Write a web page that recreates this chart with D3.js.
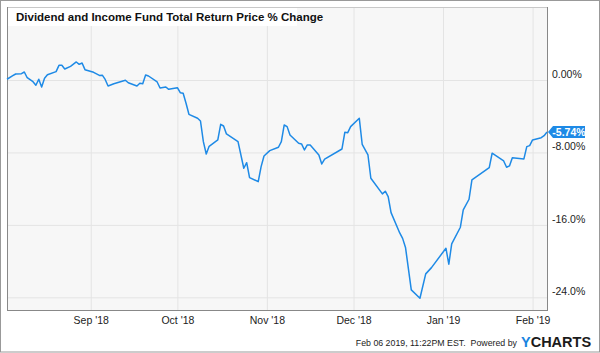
<!DOCTYPE html>
<html>
<head>
<meta charset="utf-8">
<script src="https://cdn.jsdelivr.net/npm/d3@7"></script>
<style>
  body { margin: 0; background: #fff; }
  svg { display: block; font-family: Arial, "Liberation Sans", sans-serif; }
</style>
</head>
<body>
<svg id="chart" width="600" height="353"></svg>
<script>
// total return % change
var dates = ["2018-08-03","2018-08-05","2018-08-06","2018-08-08","2018-08-09","2018-08-10","2018-08-12","2018-08-13",
  "2018-08-14","2018-08-15","2018-08-16","2018-08-17","2018-08-20","2018-08-21","2018-08-22","2018-08-23","2018-08-25",
  "2018-08-27","2018-08-28","2018-08-29","2018-08-30","2018-09-02","2018-09-04","2018-09-05","2018-09-06","2018-09-07",
  "2018-09-09","2018-09-13","2018-09-14","2018-09-17","2018-09-18","2018-09-19","2018-09-20","2018-09-21","2018-09-24",
  "2018-09-25","2018-09-27","2018-09-28","2018-10-01","2018-10-02","2018-10-03","2018-10-04","2018-10-05","2018-10-08",
  "2018-10-09","2018-10-10","2018-10-11","2018-10-12","2018-10-15","2018-10-16","2018-10-17","2018-10-18","2018-10-22",
  "2018-10-24","2018-10-25","2018-10-26","2018-10-29","2018-10-30","2018-10-31","2018-11-02","2018-11-05","2018-11-06",
  "2018-11-07","2018-11-08","2018-11-09","2018-11-12","2018-11-13","2018-11-14","2018-11-15","2018-11-16","2018-11-19",
  "2018-11-20","2018-11-21","2018-11-27","2018-11-28","2018-11-29","2018-11-30","2018-12-03","2018-12-04","2018-12-06",
  "2018-12-07","2018-12-11","2018-12-12","2018-12-13","2018-12-14","2018-12-17","2018-12-18","2018-12-19","2018-12-21",
  "2018-12-24","2018-12-26","2018-12-28","2019-01-02","2019-01-03","2019-01-04","2019-01-07","2019-01-08","2019-01-10",
  "2019-01-11","2019-01-17","2019-01-18","2019-01-22","2019-01-23","2019-01-24","2019-01-25","2019-01-29","2019-01-30",
  "2019-01-31","2019-02-01","2019-02-04","2019-02-05","2019-02-06"];
var values = [0.08,0.47,0.66,0.70,0.88,0.25,-0.19,-0.58,
  0.08,-0.77,0.19,0.58,0.92,1.62,1.62,1.21,1.51,
  1.99,1.73,1.88,1.14,0.85,0.50,0.53,0.06,-0.66,
  -0.41,-0.03,-0.30,-0.66,-0.36,-0.41,0.55,0.44,-0.22,
  -0.88,-0.77,-1.03,-0.85,-1.40,-1.47,-2.57,-3.79,-4.23,
  -4.53,-6.81,-8.17,-7.32,-6.62,-4.89,-5.08,-5.96,-6.81,
  -9.75,-9.13,-10.78,-11.23,-9.57,-8.39,-7.80,-7.43,-6.81,
  -4.97,-5.15,-6.07,-6.99,-7.06,-7.73,-7.17,-7.17,-8.28,
  -9.27,-8.75,-7.62,-5.77,-5.82,-5.15,-4.23,-7.10,-8.28,
  -10.85,-12.58,-12.28,-12.88,-14.65,-16.89,-17.49,-18.49,-23.18,
  -24.10,-21.41,-20.72,-18.58,-20.34,-18.10,-16.26,-14.35,-13.17,
  -11.04,-9.68,-8.09,-8.94,-9.64,-9.49,-8.58,-8.72,-7.36,
  -7.25,-6.62,-6.37,-6.15,-5.74];

var yTicks = [0, -8, -16, -24];
var yTickLabels = ["0.00%", "-8.00%", "-16.0%", "-24.0%"];
var title = "Dividend and Income Fund Total Return Price % Change";
var lastLabel = "-5.74%";
var stamp = "Feb 06 2019, 11:22PM EST.\u00a0 Powered by";

var parse = d3.timeParse("%Y-%m-%d");
var data = dates.map(function (d, i) { return { date: parse(d), value: values[i] }; });

var margin = { top: 7, right: 53, bottom: 43, left: 7 };
var W = 600, H = 353;
var width = W - margin.left - margin.right;
var height = H - margin.top - margin.bottom;
var blue = "#1e8ae6";

var svg = d3.select("#chart");

// outer frame
svg.append("rect")
    .attr("x", 0.5).attr("y", 0.5)
    .attr("width", W - 1).attr("height", H - 1.5)
    .attr("fill", "#fff")
    .attr("stroke", "#999");

var x = d3.scaleTime()
    .domain([parse("2018-08-03"), parse("2019-02-06")])
    .range([0, width]);

var y = d3.scaleLinear()
    .domain([-25.4, 8.06])
    .range([height, 0]);

var g = svg.append("g")
    .attr("transform", "translate(" + margin.left + "," + margin.top + ")");

g.append("rect")
    .attr("width", width).attr("height", height)
    .attr("fill", "#f7f7f7");

// grid
var monthTicks = x.ticks(d3.timeMonth.every(1));

g.append("g")
    .attr("class", "xgrid")
    .attr("transform", "translate(0," + height + ")")
    .call(d3.axisBottom(x).tickValues(monthTicks).tickSize(-height).tickFormat(""))
    .call(function (s) {
        s.select(".domain").remove();
        s.selectAll("line").attr("stroke", "#e4e4e4");
    });

g.append("g")
    .attr("class", "ygrid")
    .call(d3.axisLeft(y).tickValues(yTicks).tickSize(-width).tickFormat(""))
    .call(function (s) {
        s.select(".domain").remove();
        s.selectAll("line").attr("stroke", "#e4e4e4");
    });

// plot border
g.append("line").attr("x1", 0).attr("x2", width).attr("y1", 0.5).attr("y2", 0.5).attr("stroke", "#c8c8c8");
g.append("line").attr("x1", 0.5).attr("x2", 0.5).attr("y1", 0).attr("y2", height).attr("stroke", "#888");
g.append("line").attr("x1", width + 0.5).attr("x2", width + 0.5).attr("y1", 0).attr("y2", height).attr("stroke", "#888");
g.append("line").attr("x1", 0).attr("x2", width + 1).attr("y1", height + 0.5).attr("y2", height + 0.5).attr("stroke", "#888");

// line
var line = d3.line()
    .x(function (d) { return x(d.date); })
    .y(function (d) { return y(d.value); });

g.append("path")
    .datum(data)
    .attr("fill", "none")
    .attr("stroke", blue)
    .attr("stroke-width", 1.5)
    .attr("stroke-linejoin", "round")
    .attr("d", line);

// x axis labels
g.append("g")
    .attr("transform", "translate(0," + height + ")")
    .call(d3.axisBottom(x).tickValues(monthTicks).tickSize(0).tickPadding(7).tickFormat(d3.timeFormat("%b '%y")))
    .call(function (s) {
        s.select(".domain").remove();
        s.selectAll("text")
            .attr("fill", "#222")
            .style("font-size", "10.5px")
            .style("font-family", "Arial, 'Liberation Sans', sans-serif");
    });

// y axis labels (right side, sitting above grid lines)
g.append("g")
    .attr("transform", "translate(" + width + ",0)")
    .call(d3.axisRight(y).tickValues(yTicks).tickSize(0).tickPadding(5)
        .tickFormat(function (d, i) { return yTickLabels[i]; }))
    .call(function (s) {
        s.select(".domain").remove();
        s.selectAll("text")
            .attr("dy", "-0.25em")
            .attr("fill", "#222")
            .style("font-size", "10.5px")
            .style("font-family", "Arial, 'Liberation Sans', sans-serif");
    });

// last value flag
var last = data[data.length - 1];
var ly = y(last.value);
var flag = g.append("g").attr("transform", "translate(" + (width + 1) + "," + ly + ")");
flag.append("path")
    .attr("d", "M0,0 L5,-6 L37,-6 L37,6 L5,6 Z")
    .attr("fill", blue);
flag.append("text")
    .attr("x", 21).attr("y", 4)
    .attr("text-anchor", "middle")
    .attr("fill", "#fff")
    .style("font-size", "10.5px")
    .style("font-weight", "bold")
    .text(lastLabel);

// title box
svg.append("rect")
    .attr("x", 8).attr("y", 8)
    .attr("width", 289).attr("height", 18)
    .attr("fill", "#fff");
svg.append("text")
    .attr("x", 16).attr("y", 21)
    .attr("fill", "#111")
    .style("font-size", "11.5px")
    .style("font-weight", "bold")
    .text(title);

// footer
svg.append("text")
    .attr("x", 517).attr("y", 346)
    .attr("text-anchor", "end")
    .attr("fill", "#222")
    .style("font-size", "8.8px")
    .text(stamp);

var logo = svg.append("text")
    .attr("x", 521).attr("y", 347)
    .style("font-size", "14.5px")
    .style("font-weight", "bold");
logo.append("tspan").attr("fill", "#1a84e0").text("Y");
logo.append("tspan").attr("fill", "#1b1b1b").text("CHARTS");
</script>
</body>
</html>
